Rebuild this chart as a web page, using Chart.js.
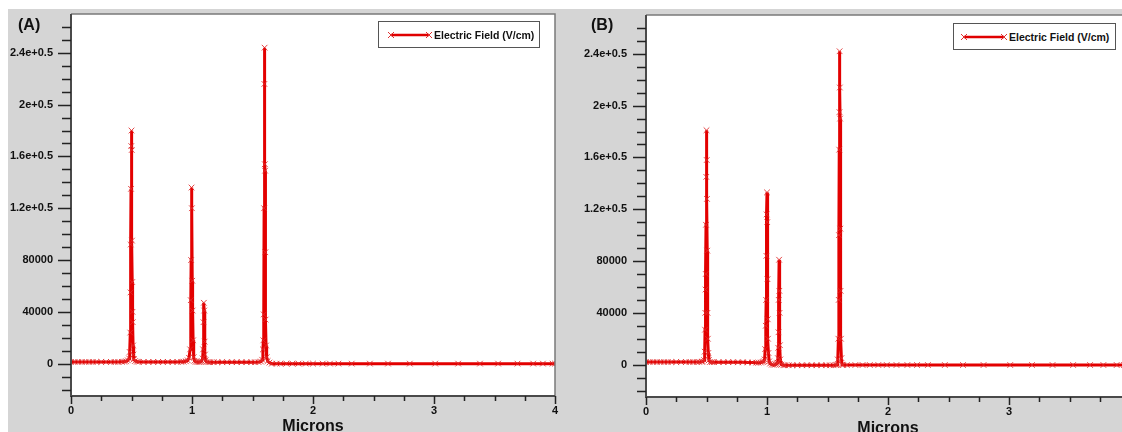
<!DOCTYPE html>
<html>
<head>
<meta charset="utf-8">
<script src="https://cdn.jsdelivr.net/npm/chart.js@4.4.1/dist/chart.umd.min.js"></script>
<style>
  html, body { margin:0; padding:0; width:1122px; height:432px; overflow:hidden; background:#ffffff; }
  #wrapA { position:absolute; left:8px; top:9px; width:559px; height:431px; }
  #wrapB { position:absolute; left:567px; top:9px; width:574px; height:431px; }
  .plabel { position:absolute; font-family:"Liberation Sans", Arial, sans-serif; font-weight:bold; font-size:16px; line-height:18px; color:#111; }
  .legend { position:absolute; box-sizing:border-box; background:#fff; border:1px solid #555; height:27px; }
  .legend svg { position:absolute; left:0; top:0; }
  .legend span { position:absolute; font-family:"Liberation Sans", Arial, sans-serif; font-weight:bold; font-size:10.5px; line-height:12px; color:#111; white-space:nowrap; }
</style>
</head>
<body>
<div id="wrapA"><canvas id="chartA" width="559" height="431"></canvas></div>
<div id="wrapB"><canvas id="chartB" width="574" height="431"></canvas></div>
<div class="plabel" style="left:18px; top:16px;">(A)</div>
<div class="plabel" style="left:591px; top:16px;">(B)</div>
<div class="legend" style="left:378px; top:21px; width:162px;">
  <svg width="60" height="26"><line x1="12" y1="13" x2="50" y2="13" stroke="#e00000" stroke-width="2.5"/><path d="M9 10 L15 16 M15 10 L9 16 M47 10 L53 16 M53 10 L47 16" stroke="#e03030" stroke-width="1"/></svg>
  <span style="left:55px; top:7px;">Electric Field (V/cm)</span>
</div>
<div class="legend" style="left:953px; top:23px; width:163px;">
  <svg width="60" height="26"><line x1="10" y1="13" x2="50" y2="13" stroke="#e00000" stroke-width="2.5"/><path d="M7 10 L13 16 M13 10 L7 16 M47 10 L53 16 M53 10 L47 16" stroke="#e03030" stroke-width="1"/></svg>
  <span style="left:55px; top:7px;">Electric Field (V/cm)</span>
</div>
<script>
// ---------- DATA ----------
const seriesName = 'Electric Field (V/cm)';
const xAxisTitle = 'Microns';

const xTickValues = [0, 1, 2, 3, 4];
const xTickLabels = ['0', '1', '2', '3', '4'];
const yTickValues = [0, 40000, 80000, 120000, 160000, 200000, 240000];
const yTickLabels = ['0', '40000', '80000', '1.2e+0.5', '1.6e+0.5', '2e+0.5', '2.4e+0.5'];

// Panel (A)
const xA = [0,0.03,0.06,0.09,0.12,0.15,0.18,0.21,0.25,0.29,0.33,0.36,0.39,0.42,0.44,0.455,
  0.47,0.48,0.485,0.49,0.492,0.494,0.496,0.498,0.5,0.502,0.504,0.506,0.508,0.51,0.513,0.516,0.52,0.53,0.545,
  0.56,0.6,0.64,0.68,0.72,0.76,0.8,0.84,0.88,0.91,0.93,0.95,0.965,0.975,
  0.985,0.99,0.993,0.996,0.999,1.002,1.005,1.009,1.014,1.02,1.03,1.045,1.06,1.07,1.08,
  1.088,1.092,1.095,1.098,1.101,1.104,1.107,1.112,1.12,1.135,1.15,1.18,1.21,1.25,1.29,1.33,1.37,1.41,1.45,1.49,1.52,1.55,1.57,1.58,
  1.586,1.59,1.593,1.596,1.598,1.6,1.602,1.604,1.606,1.608,1.612,1.617,1.625,1.64,
  1.66,1.7,1.73,1.78,1.83,1.88,1.94,2.0,2.08,2.14,2.21,2.32,2.47,2.62,2.8,3.01,3.2,3.38,3.53,3.69,3.82,3.9,3.98,4.0];
const yA = [1300,1300,1300,1300,1300,1300,1300,1300,1300,1300,1300,1300,1300,1400,1500,1800,
  2500,4000,9000,24000,55000,92000,135000,168000,180000,165000,95000,63000,40000,32000,14000,7000,3500,2000,1500,
  1400,1300,1300,1300,1300,1300,1300,1300,1300,1400,1500,1800,2500,4500,
  11000,49000,80000,136000,120000,64000,41000,18000,5000,2200,1400,1200,1200,1400,2000,
  4000,11000,32000,47000,41000,17000,7000,2500,1300,1100,1100,1100,1100,1100,1100,1100,1100,1100,1100,1100,1100,1200,1600,3000,
  11000,18000,38000,120000,216000,244000,154000,149000,86000,34000,14000,5000,2000,800,
  0,0,0,0,0,0,0,0,0,0,0,0,0,0,0,0,0,0,0,0,0,0,0,0];

// Panel (B)
const xB = [0,0.03,0.06,0.09,0.12,0.15,0.18,0.21,0.25,0.29,0.33,0.36,0.39,0.42,0.44,0.46,
  0.47,0.48,0.485,0.488,0.49,0.492,0.494,0.496,0.498,0.5,0.502,0.504,0.506,0.508,0.511,0.515,0.52,0.53,0.545,
  0.56,0.6,0.64,0.68,0.72,0.76,0.8,0.84,0.88,0.91,0.93,0.95,0.965,0.975,0.98,
  0.985,0.99,0.993,0.995,0.997,1.0,1.002,1.004,1.006,1.008,1.012,1.018,1.025,1.04,1.055,1.07,1.08,
  1.085,1.09,1.093,1.095,1.097,1.1,1.102,1.104,1.107,1.11,1.12,1.135,1.15,1.18,1.21,1.25,1.29,1.33,1.37,1.41,1.45,1.49,1.52,1.55,1.57,1.58,
  1.585,1.59,1.593,1.595,1.597,1.599,1.6,1.602,1.604,1.606,1.608,1.611,1.615,1.62,1.63,
  1.66,1.73,1.79,1.85,1.92,1.99,2.07,2.16,2.24,2.33,2.47,2.62,2.79,3.01,3.19,3.36,3.53,3.67,3.78,3.89,3.95,4.0];
const yB = [2000,2000,2000,2000,2000,2000,2000,2000,2000,2000,2000,2000,2000,2000,2100,2200,
  2400,3500,10000,27000,40000,58000,70000,108000,145000,181000,158000,128000,88000,40000,20000,9000,3500,2000,1900,
  1900,1900,1900,1900,1900,1800,1800,1700,1600,1500,1500,1600,2000,2600,4000,
  12000,30000,50000,84000,116000,133000,110000,66000,35000,20000,9000,2500,800,0,-200,0,500,
  1500,5000,13000,25000,50000,81000,57000,40000,15000,4000,0,-500,-500,-500,-500,-500,-500,-500,-500,-500,-500,-500,-500,-500,-400,0,
  4000,20000,50000,100000,166000,195000,242000,214000,190000,105000,57000,20000,5000,0,-300,
  -300,-300,-300,-300,-300,-300,-300,-300,-300,-300,-300,-300,-300,-300,-300,-300,-300,-300,-300,-300,-300,-300];

// ---------- STYLE / HELPERS ----------
const FONT = '"Liberation Sans", Arial, sans-serif';
const Y_MIN = -25000, Y_MAX = 270000;
const yMinorValues = [];
for (let v = -20000; v <= 260000; v += 10000) yMinorValues.push(v);
const xMinorValues = [];
for (let v = 0; v <= 4; v += 0.25) xMinorValues.push(v);

function labelFrom(values, labels, v) {
  const i = values.findIndex(t => Math.abs(t - v) < 1e-6);
  return i >= 0 ? labels[i] : '';
}

const framePlugin = {
  id: 'frame',
  beforeDraw(chart) {
    const { ctx, chartArea: a, width, height } = chart;
    ctx.save();
    ctx.fillStyle = '#d5d5d5';
    ctx.fillRect(0, 0, width, height);
    ctx.fillStyle = '#ffffff';
    ctx.fillRect(a.left, a.top, a.right - a.left, a.bottom - a.top);
    ctx.restore();
  },
  afterDraw(chart) {
    const { ctx, chartArea: a } = chart;
    const xs = chart.scales.x, ys = chart.scales.y;
    ctx.save();
    ctx.strokeStyle = '#7a7a7a';
    ctx.lineWidth = 1.5;
    ctx.beginPath();
    ctx.moveTo(a.left, a.top); ctx.lineTo(a.right, a.top); ctx.lineTo(a.right, a.bottom);
    ctx.stroke();
    ctx.strokeStyle = '#4a4a4a';
    ctx.lineWidth = 2;
    ctx.beginPath();
    ctx.moveTo(a.left, a.top); ctx.lineTo(a.left, a.bottom); ctx.lineTo(a.right, a.bottom);
    ctx.stroke();
    ctx.strokeStyle = '#222';
    ctx.lineWidth = 1.5;
    ctx.beginPath();
    yMinorValues.forEach(v => {
      const y = Math.round(ys.getPixelForValue(v)) + 0.5;
      const len = (v % 40000 === 0) ? 13 : 9;
      ctx.moveTo(a.left - len, y); ctx.lineTo(a.left, y);
    });
    xMinorValues.forEach(v => {
      const x = Math.round(xs.getPixelForValue(v)) + 0.5;
      const len = (Math.abs(v - Math.round(v)) < 1e-6) ? 8 : 5;
      ctx.moveTo(x, a.bottom); ctx.lineTo(x, a.bottom + len);
    });
    ctx.stroke();
    ctx.restore();
  }
};

function makeChart(id, xs, ys, geo) {
  const pts = xs.map((x, i) => ({ x: x, y: ys[i] }));
  return new Chart(document.getElementById(id), {
    type: 'line',
    data: {
      datasets: [{
        label: seriesName,
        data: pts,
        borderColor: '#e30000',
        borderWidth: 3,
        pointStyle: 'crossRot',
        pointRadius: 4,
        pointBorderColor: 'rgba(225,40,40,0.85)',
        pointBorderWidth: 1,
        pointBackgroundColor: 'rgba(0,0,0,0)',
        tension: 0,
        fill: false
      }]
    },
    options: {
      responsive: false,
      animation: false,
      devicePixelRatio: 1,
      layout: { padding: { top: geo.top, right: geo.right, left: 0, bottom: 0 } },
      plugins: { legend: { display: false }, title: { display: false }, tooltip: { enabled: false } },
      scales: {
        x: {
          type: 'linear', min: 0, max: 4,
          afterBuildTicks: s => { s.ticks = xMinorValues.map(v => ({ value: v })); },
          afterFit: s => { s.height = geo.xh; s.paddingLeft = 0; s.paddingRight = 0; s.paddingTop = 0; s.paddingBottom = 0; },
          ticks: {
            autoSkip: false, maxRotation: 0, padding: 8, color: '#111',
            font: { family: FONT, size: 11, weight: 'bold' },
            callback: v => labelFrom(xTickValues, xTickLabels, v)
          },
          grid: { display: false, drawTicks: false },
          border: { display: false },
          title: {
            display: true, text: xAxisTitle, color: '#111',
            font: { family: FONT, size: 16, weight: 'bold' },
            padding: { top: 0, bottom: geo.tb }
          }
        },
        y: {
          type: 'linear', min: Y_MIN, max: Y_MAX,
          afterBuildTicks: s => { s.ticks = yMinorValues.map(v => ({ value: v })); },
          afterFit: s => { s.width = geo.yw; s.paddingLeft = 0; s.paddingRight = 0; s.paddingTop = 0; s.paddingBottom = 0; },
          ticks: {
            autoSkip: false, padding: geo.yp, color: '#111',
            font: { family: FONT, size: 11, weight: 'bold' },
            callback: v => labelFrom(yTickValues, yTickLabels, v)
          },
          grid: { display: false, drawTicks: false },
          border: { display: false }
        }
      }
    },
    plugins: [framePlugin]
  });
}

makeChart('chartA', xA, yA, { top: 3, right: 12, xh: 44, yw: 63, yp: 18, tb: 4 });
makeChart('chartB', xB, yB, { top: 6, right: 11, xh: 43, yw: 79, yp: 19, tb: 2 });
</script>
</body>
</html>
